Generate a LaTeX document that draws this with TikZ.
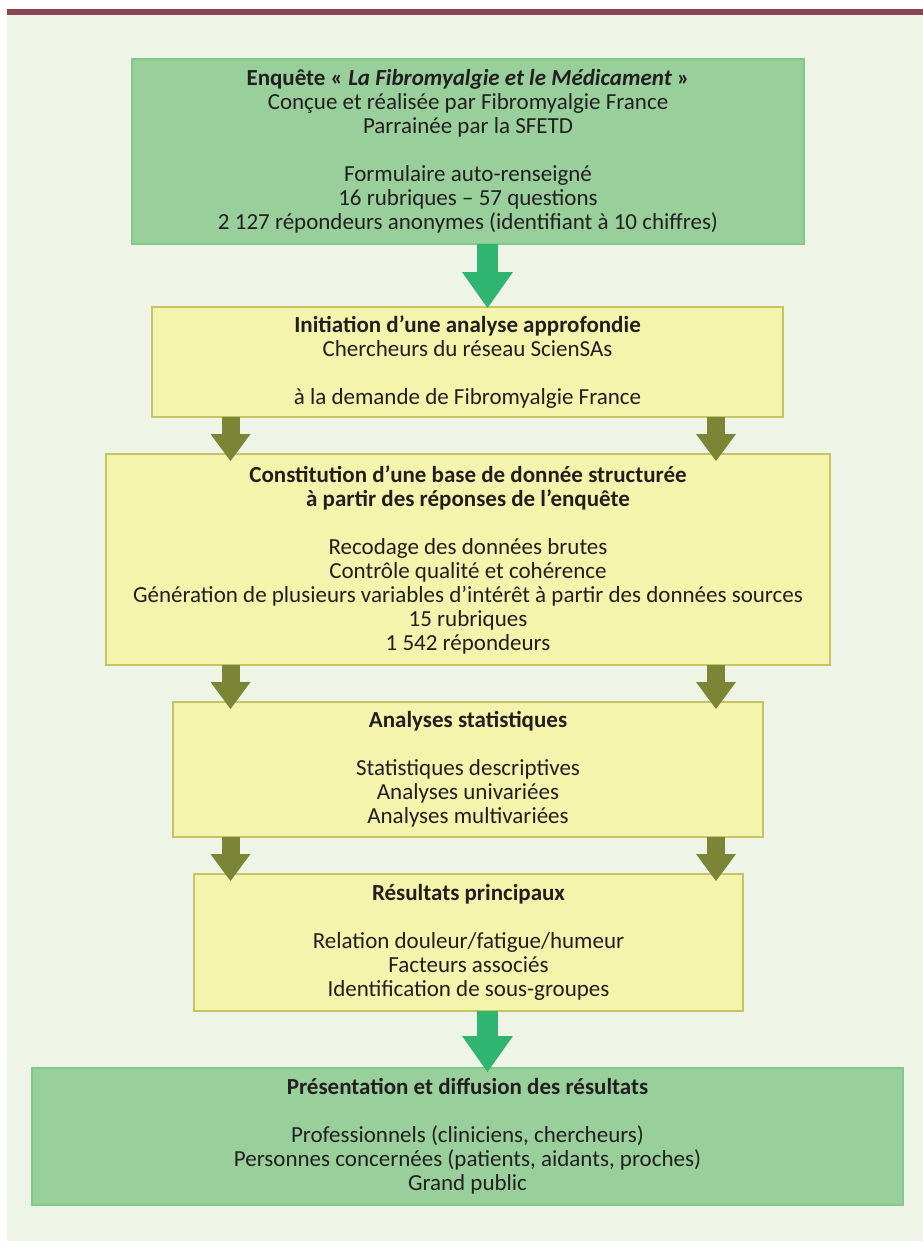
\documentclass[tikz,border=0pt]{standalone}
\usepackage{fontspec}
\setmainfont{Carlito}
\usetikzlibrary{arrows.meta,calc}

\definecolor{fond}{HTML}{EEF4E6}
\definecolor{bordeaux}{HTML}{8A4550}
\definecolor{vertfond}{HTML}{98CF9B}
\definecolor{vertbord}{HTML}{7FC98A}
\definecolor{jaunefond}{HTML}{F5F4AC}
\definecolor{jaunebord}{HTML}{C5C663}
\definecolor{vertfl}{HTML}{2FB56F}
\definecolor{olivefl}{HTML}{7A8536}
\definecolor{texte}{HTML}{231F20}

\tikzset{
  boite/.style={rectangle, line width=2bp, outer sep=0pt, align=center,
    text=texte, font=\fontsize{23bp}{24bp}\selectfont},
  vertbox/.style={boite, fill=vertfond, draw=vertbord},
  jaunebox/.style={boite, fill=jaunefond, draw=jaunebord},
  vertfleche/.style={draw=vertfl, line width=21bp,
    -{Triangle[width=51bp,length=36bp,line width=0pt]}},
  olivefleche/.style={draw=olivefl, line width=18bp,
    -{Triangle[width=40bp,length=27bp,line width=0pt]}}
}

\begin{document}
\begin{tikzpicture}[x=1bp,y=-1bp]
		\useasboundingbox (0,0) rectangle (923,1241);
		\fill[fond] (7,15) rectangle (923,1241);
		\fill[bordeaux] (7,9) rectangle (923,15);
		
		\node[vertbox, minimum width=672bp, minimum height=185bp] (enquete) at (468,151.5)
			{\textbf{Enquête «~\textit{La Fibromyalgie et le Médicament}~»}\\
			Conçue et réalisée par Fibromyalgie France\\
			Parrainée par la SFETD\\[24bp]
			Formulaire auto-renseigné\\
			16 rubriques – 57 questions\\
			2 127 répondeurs anonymes (identifiant à 10 chiffres)};
		
		\node[jaunebox, minimum width=631bp, minimum height=110bp] (initiation) at (467.5,362)
			{\textbf{Initiation d’une analyse approfondie}\\
			Chercheurs du réseau ScienSAs\\[24bp]
			à la demande de Fibromyalgie France};
		
		\node[jaunebox, minimum width=724bp, minimum height=211bp] (constitution) at (468,559.5)
			{\textbf{Constitution d’une base de donnée structurée}\\
			\textbf{à partir des réponses de l’enquête}\\[24bp]
			Recodage des données brutes\\
			Contrôle qualité et cohérence\\
			Génération de plusieurs variables d’intérêt à partir des données sources\\
			15 rubriques\\
			1 542 répondeurs};
		
		\node[jaunebox, minimum width=590bp, minimum height=135bp] (statistiques) at (468,769.5)
			{\textbf{Analyses statistiques}\\[24bp]
			Statistiques descriptives\\
			Analyses univariées\\
			Analyses multivariées};
		
		\node[jaunebox, minimum width=549bp, minimum height=137bp] (resultats) at (468.5,942.5)
			{\textbf{Résultats principaux}\\[24bp]
			Relation douleur/fatigue/humeur\\
			Facteurs associés\\
			Identification de sous-groupes};
		
		\node[vertbox, minimum width=871bp, minimum height=137bp] (diffusion) at (467.5,1136.5)
			{\textbf{Présentation et diffusion des résultats}\\[24bp]
			Professionnels (cliniciens, chercheurs)\\
			Personnes concernées (patients, aidants, proches)\\
			Grand public};
		
		% fleches
		\coordinate (gx) at (487.5,0);
		\coordinate (ogx) at (230.5,0);
		\coordinate (odx) at (716,0);
		\draw[vertfleche] (enquete.south -| gx) -- ($(initiation.north -| gx)+(0,1)$);
		\foreach \a/\b in {initiation/constitution, constitution/statistiques, statistiques/resultats}{
			\draw[olivefleche] (\a.south -| ogx) -- ($(\b.north -| ogx)+(0,7)$);
			\draw[olivefleche] (\a.south -| odx) -- ($(\b.north -| odx)+(0,7)$);
		}
		\draw[vertfleche] (resultats.south -| gx) -- ($(diffusion.north -| gx)+(0,4)$);
	\end{tikzpicture}
\end{document}
